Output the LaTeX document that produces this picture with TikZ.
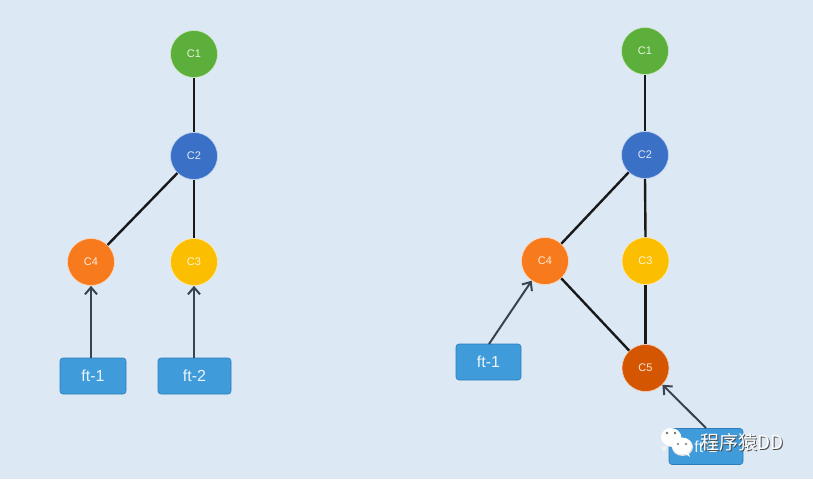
\documentclass[tikz,border=0pt]{standalone}
\usepackage{fontspec}
\setmainfont{Liberation Sans}
\newfontfamily\cjk{Noto Sans CJK SC}
\usetikzlibrary{arrows.meta}
\definecolor{bg}{HTML}{DCE9F5}
\definecolor{cgreen}{HTML}{5BAF3A}
\definecolor{cblue}{HTML}{3A70C6}
\definecolor{corange}{HTML}{F77A1C}
\definecolor{cyellow}{HTML}{FCBE00}
\definecolor{cdark}{HTML}{D45600}
\definecolor{boxfill}{HTML}{3F9BDA}
\definecolor{boxline}{HTML}{2E7DB8}
\definecolor{arrowc}{HTML}{3A4450}
\tikzset{
  commit/.style={circle, minimum size=47pt, inner sep=0pt, draw=white!70!#1, line width=0.6pt, fill=#1, text=white!85!#1, font=\fontsize{11}{13}\selectfont},
  branch/.style={rectangle, rounded corners=3pt, fill=boxfill, draw=boxline, line width=0.6pt, minimum height=36pt, text=white!90!boxfill, font=\fontsize{16}{18}\selectfont},
  link/.style={line width=2.4pt, black!90},
  ptr/.style={line width=2pt, arrowc, -{Straight Barb[length=7pt,width=12pt,line width=2pt]}},
}
\begin{document}
\begin{tikzpicture}[x=1pt,y=-1pt]
\fill[bg] (0,0) rectangle (813,479);
\useasboundingbox (0,0) rectangle (813,479);
% left graph
\node[commit=cgreen] (l1) at (194,54) {C1};
\node[commit=cblue] (l2) at (194,156) {C2};
\node[commit=corange] (l4) at (91,262) {C4};
\node[commit=cyellow] (l3) at (194,262) {C3};
\node[branch, minimum width=66pt] (lf1) at (93,376) {ft-1};
\node[branch, minimum width=73pt] (lf2) at (194.5,376) {ft-2};
\draw[link] (l1) -- (l2);
\draw[link] (l2) -- (l4);
\draw[link] (l2) -- (l3);
\draw[ptr] (lf1.north -| l4) -- (l4);
\draw[ptr] (lf2.north -| l3) -- (l3);
% right graph
\node[commit=cgreen] (r1) at (645,51) {C1};
\node[commit=cblue] (r2) at (645,155) {C2};
\node[commit=corange] (r4) at (545,261) {C4};
\node[commit=cyellow] (r3) at (645.5,261) {C3};
\node[commit=cdark] (r5) at (645.5,368) {C5};
\node[branch, minimum width=65pt] (rf1) at (488.5,362) {ft-1};
\node[branch, minimum width=74pt] (rf2) at (706,446.5) {ft-2};
\draw[link] (r1) -- (r2);
\draw[link] (r2) -- (r4);
\draw[link] (r2.south) -- (r3.north);
\draw[link] (r4) -- (r5);
\draw[link] (r3.south) -- (r5.north);
\coordinate (a1) at (489,344);
\coordinate (a2) at (706,428);
\draw[ptr] (a1) -- (r4);
\draw[ptr] (a2) -- (r5);
% watermark
\fill[white!92!black] (671.5,438) ellipse (10 and 9);
\fill[white] (671,437) ellipse (10 and 9);
\fill[white!95!black] (661,447) -- (664,452) -- (667,446) -- cycle;
\fill[white!88!black] (682.5,447) ellipse (10.5 and 9);
\fill[white] (682,446) ellipse (10 and 8.5);
\fill[white] (688,452) -- (690,457) -- (684,453) -- cycle;
\fill[black!55] (667,433) circle (1.3) (675,433) circle (1.3) (678,444) circle (1.2) (686,444) circle (1.2);
\node[text=black!70, font=\cjk\fontsize{19}{21}\selectfont, anchor=west, inner sep=0pt] at (700.8,442.8) {程序猿DD};
\node[text=white, font=\cjk\fontsize{19}{21}\selectfont, anchor=west, inner sep=0pt] (wm) at (700,442) {程序猿DD};
\end{tikzpicture}
\end{document}
